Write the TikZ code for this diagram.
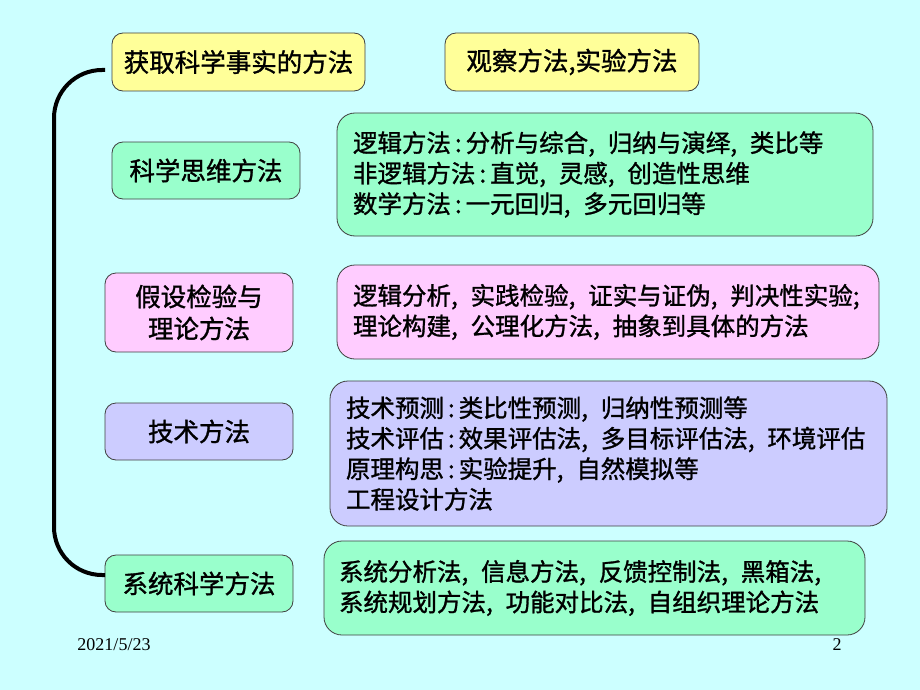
\documentclass[tikz,border=0pt]{standalone}
\usepackage{fontspec}
\setmainfont{Liberation Serif}
\newfontfamily\cjk[FakeBold=1.2]{Noto Sans CJK SC}
\definecolor{bgc}{HTML}{CCFFFF}
\definecolor{yel}{HTML}{FFFF99}
\definecolor{grn}{HTML}{99FFCC}
\definecolor{pnk}{HTML}{FFCCFF}
\definecolor{prp}{HTML}{CCCCFF}
\newcommand\cl{\makebox[0.6em]{:}}
\newcommand\cm{\makebox[0.8em][l]{,}}
\begin{document}
\begin{tikzpicture}[x=1pt,y=-1pt,
  box/.style={draw=black!75, line width=0.8pt, rounded corners=11pt, inner sep=0pt,
    align=center, font=\cjk\fontsize{25.5}{32}\selectfont},
  big/.style={draw=black!75, line width=0.8pt, rounded corners=18pt, inner xsep=16pt,
    inner ysep=0pt, align=left, font=\cjk\fontsize{24.5}{30.5}\selectfont},
  bracket/.style={line width=4pt, rounded corners=48pt},
  foot/.style={font=\fontsize{18}{20}\selectfont, inner sep=0pt}]
\fill[bgc] (0,0) rectangle (920,690);
\useasboundingbox (0,0) rectangle (920,690);

% left column
\node[box, fill=yel, minimum width=253pt, minimum height=58pt] (fact) at (238.5,62) {获取科学事实的方法};
\node[box, fill=yel, minimum width=254pt, minimum height=58pt] (obs) at (572,62) {观察方法,实验方法};
\node[box, fill=grn, minimum width=188pt, minimum height=57pt] (think) at (206,170.5) {科学思维方法};
\node[box, fill=pnk, minimum width=188pt, minimum height=79pt] (hyp) at (199,312.5) {假设检验与\\理论方法};
\node[box, fill=prp, minimum width=188pt, minimum height=57pt] (tech) at (199,431.5) {技术方法};
\node[box, fill=grn, minimum width=188pt, minimum height=57pt] (sys) at (199,583.5) {系统科学方法};

% right column
\node[big, fill=grn, text width=504pt, minimum height=123pt] (thinkR) at (605,174.5)
  {逻辑方法\cl 分析与综合\cm 归纳与演绎\cm 类比等\\
   非逻辑方法\cl 直觉\cm 灵感\cm 创造性思维\\
   数学方法\cl 一元回归\cm 多元回归等};
\node[big, fill=pnk, text width=510pt, minimum height=94pt] (hypR) at (608,312)
  {逻辑分析\cm 实践检验\cm 证实与证伪\cm 判决性实验;\\
   理论构建\cm 公理化方法\cm 抽象到具体的方法};
\node[big, fill=prp, text width=525pt, minimum height=145pt] (techR) at (608.5,453.5)
  {技术预测\cl 类比性预测\cm 归纳性预测等\\
   技术评估\cl 效果评估法\cm 多目标评估法\cm 环境评估\\
   原理构思\cl 实验提升\cm 自然模拟等\\
   工程设计方法};
\node[big, fill=grn, text width=511pt, minimum height=94pt, inner xsep=15pt] (sysR) at (594.5,588)
  {系统分析法\cm 信息方法\cm 反馈控制法\cm 黑箱法\cm\\
   系统规划方法\cm 功能对比法\cm 自组织理论方法};

% bracket
\coordinate (btop) at (105,70);
\coordinate (bcorner) at (54,575);
\coordinate (bbot) at (105,575);
\draw[bracket] (btop) -| (bcorner) -- (bbot);

% footer
\node[foot] (date) at (114,645) {2021/5/23};
\node[foot] (page) at (837,645) {2};
\end{tikzpicture}
\end{document}
